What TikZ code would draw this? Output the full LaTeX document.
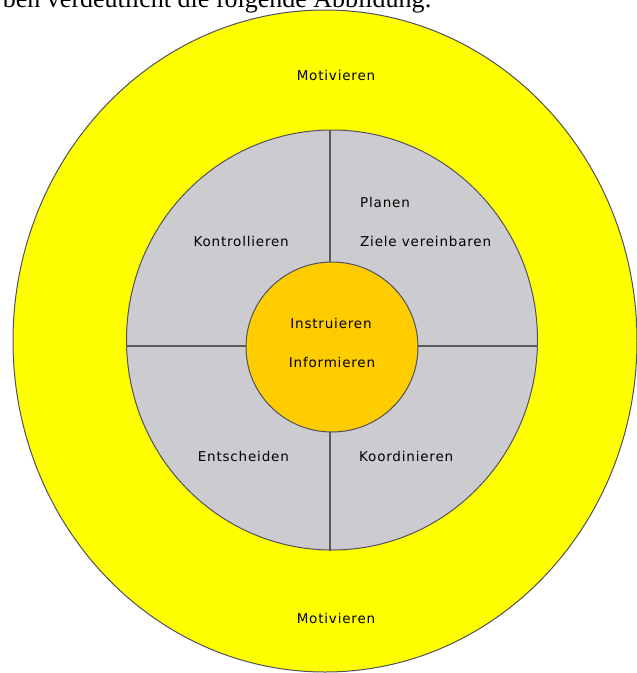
\documentclass[tikz,border=0pt]{standalone}
\usepackage{fontspec}
\newfontfamily\schrift{DejaVu Sans}[LetterSpace=6]
\newfontfamily\kopfschrift{Liberation Serif}
\usetikzlibrary{shapes.geometric}
\definecolor{gelb}{RGB}{255,255,0}
\definecolor{orange}{RGB}{255,204,0}
\definecolor{punktgrau}{RGB}{204,204,208}
\definecolor{randgrau}{RGB}{80,80,96}
\definecolor{teilergrau}{RGB}{90,90,90}
\begin{document}
\begin{tikzpicture}[x=1pt,y=-1pt]

      \tikzset{ring/.style={draw=randgrau, ellipse, inner sep=0pt, line width=1pt}}
      \tikzset{teiler/.style={draw=teilergrau, line width=1.6pt}}
      \tikzset{beschriftung/.style={font=\schrift\fontsize{13.5}{15}\selectfont, inner sep=0pt}}
      \useasboundingbox (0,0) rectangle (637,673);
%% Text above
      	\node[font=\kopfschrift\fontsize{26}{28}\selectfont, anchor=base east, inner sep=0pt] (einleitung) at (432,7) {ben verdeutlicht die folgende Abbildung:};
%% Rings
      	\node[ring, fill=gelb, minimum width=624, minimum height=662] (aussen) at (325,341) {};
      	\node[ring, fill=punktgrau, minimum width=411, minimum height=420] (mitte) at (332,340) {};
		\draw[teiler] (mitte.west |- 0,346) -- (mitte.east |- 0,346);
		\draw[teiler] (330,0 |- mitte.north) -- (330,0 |- mitte.south);
      	\node[ring, fill=orange, minimum width=172, minimum height=170] (kern) at (332,347) {};
%% Labels
      	\node[beschriftung] (motiv1) at (336,75) {Motivieren};
      	\node[beschriftung] (motiv2) at (336,618) {Motivieren};
      	\node[beschriftung, anchor=west] (planen) at (360,202) {Planen};
      	\node[beschriftung, anchor=west] (ziele) at (360,241) {Ziele vereinbaren};
      	\node[beschriftung, anchor=east] (kontrolle) at (289,241) {Kontrollieren};
      	\node[beschriftung, anchor=east] (entscheid) at (289,456) {Entscheiden};
      	\node[beschriftung, anchor=west] (koord) at (359,456) {Koordinieren};
      	\node[beschriftung] (instr) at (331,323) {Instruieren};
      	\node[beschriftung] (inform) at (332,362) {Informieren};

	\end{tikzpicture}
\end{document}
